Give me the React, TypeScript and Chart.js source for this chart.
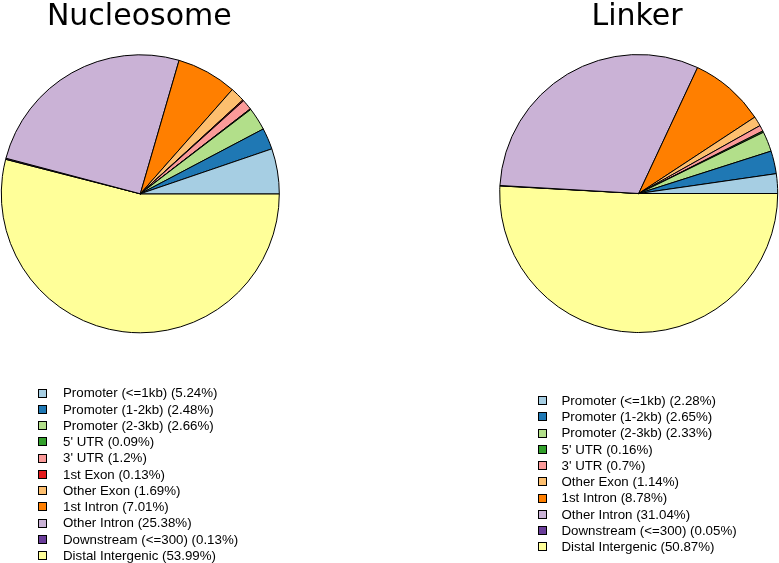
import React, { useEffect, useRef } from "react";
import { Chart, registerables } from "chart.js";

Chart.register(...registerables);

// ---- data ----
const allCategories = [
  "Promoter (<=1kb)",
  "Promoter (1-2kb)",
  "Promoter (2-3kb)",
  "5' UTR",
  "3' UTR",
  "1st Exon",
  "Other Exon",
  "1st Intron",
  "Other Intron",
  "Downstream (<=300)",
  "Distal Intergenic",
];
const categoryColors = [
  "#A6CEE3",
  "#1F78B4",
  "#B2DF8A",
  "#33A02C",
  "#FB9A99",
  "#E31A1C",
  "#FDBF6F",
  "#FF7F00",
  "#CAB2D6",
  "#6A3D9A",
  "#FFFF99",
];

const nucleosomeTitle = "Nucleosome";
const nucleosomeCategories = allCategories;
const nucleosomeValues = [5.24, 2.48, 2.66, 0.09, 1.2, 0.13, 1.69, 7.01, 25.38, 0.13, 53.99];

const linkerTitle = "Linker";
const linkerCategories = [
  "Promoter (<=1kb)",
  "Promoter (1-2kb)",
  "Promoter (2-3kb)",
  "5' UTR",
  "3' UTR",
  "Other Exon",
  "1st Intron",
  "Other Intron",
  "Downstream (<=300)",
  "Distal Intergenic",
];
const linkerValues = [2.28, 2.65, 2.33, 0.16, 0.7, 1.14, 8.78, 31.04, 0.05, 50.87];

type PanelProps = {
  title: string;
  cats: string[];
  values: number[];
  left: number;
  padding: { left: number; right: number; top: number; bottom: number };
  titleX: number;
  boxX: number;
  textX: number;
  legendY: number;
};

const W = 390;
const H = 563;
const ROW = 16.25;

function PiePanel(p: PanelProps) {
  const ref = useRef<HTMLCanvasElement | null>(null);
  useEffect(() => {
    if (!ref.current) return;
    const colors = p.cats.map((c) => categoryColors[allCategories.indexOf(c)]);
    const legendLabels = p.cats.map((c, i) => `${c} (${p.values[i]}%)`);
    // R draws counter-clockwise from 3 o'clock; Chart.js draws clockwise, so reverse order
    const revLabels = [...legendLabels].reverse();
    const revValues = [...p.values].reverse();
    const revColors = [...colors].reverse();

    const decor = {
      id: "panelDecor",
      afterDraw(chart: any) {
        const ctx = chart.ctx as CanvasRenderingContext2D;
        ctx.save();
        ctx.fillStyle = "#000";
        ctx.font = '30px "DejaVu Sans"';
        ctx.textAlign = "center";
        ctx.textBaseline = "alphabetic";
        ctx.fillText(p.title, p.titleX, 24.5);
        ctx.font = '13.3px "Liberation Sans"';
        ctx.textAlign = "left";
        legendLabels.forEach((lab, i) => {
          const cy = p.legendY + i * ROW;
          ctx.fillStyle = colors[i];
          ctx.fillRect(p.boxX, Math.round(cy - 4) + 0.5, 8, 8);
          ctx.strokeStyle = "#000";
          ctx.lineWidth = 1;
          ctx.strokeRect(p.boxX, Math.round(cy - 4) + 0.5, 8, 8);
          ctx.fillStyle = "#000";
          ctx.fillText(lab, p.textX, cy + 4.8);
        });
        ctx.restore();
      },
    };

    const chart = new Chart(ref.current, {
      type: "pie",
      data: {
        labels: revLabels,
        datasets: [
          {
            data: revValues,
            backgroundColor: revColors,
            borderColor: "#000",
            borderWidth: 1,
            hoverOffset: 0,
            offset: 0,
          },
        ],
      },
      options: {
        responsive: false,
        animation: false,
        rotation: 90,
        layout: { padding: p.padding },
        plugins: {
          legend: { display: false },
          tooltip: { enabled: false },
          title: { display: false },
        },
        events: [],
      },
      plugins: [decor],
    });
    return () => chart.destroy();
  }, []);
  return (
    <canvas
      ref={ref}
      width={W}
      height={H}
      style={{ position: "absolute", left: p.left, top: 0, width: W, height: H }}
    />
  );
}

export default function App() {
  return (
    <div
      style={{
        position: "absolute",
        left: 0,
        top: 0,
        width: 779,
        height: 563,
        background: "#fff",
        overflow: "hidden",
      }}
    >
      <PiePanel
        title={nucleosomeTitle}
        cats={nucleosomeCategories}
        values={nucleosomeValues}
        left={0}
        padding={{ left: 0.8, top: 54.3, right: 110.2, bottom: 229.7 }}
        titleX={139.3}
        boxX={38.5}
        textX={63}
        legendY={392.5}
      />
      <PiePanel
        title={linkerTitle}
        cats={linkerCategories}
        values={linkerValues}
        left={389}
        padding={{ left: 110.2, top: 54, right: 0.8, bottom: 230 }}
        titleX={248}
        boxX={149.5}
        textX={172.5}
        legendY={400}
      />
    </div>
  );
}
